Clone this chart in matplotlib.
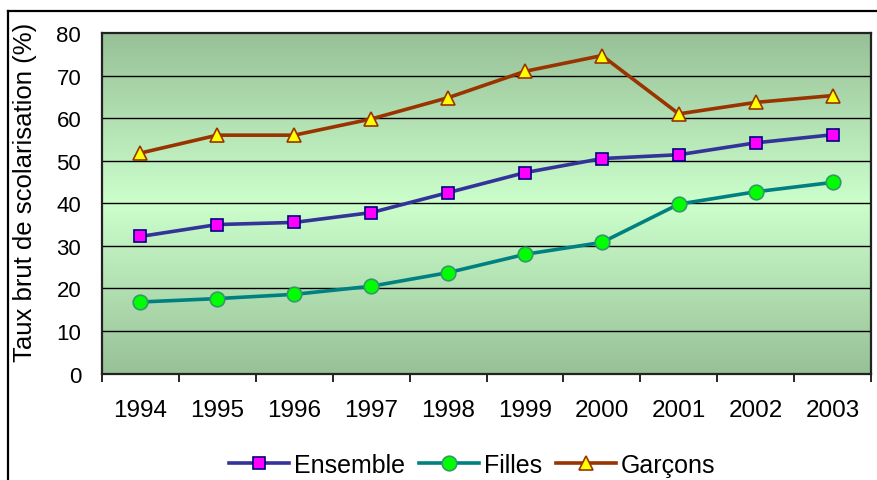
import numpy as np
import matplotlib
matplotlib.use("Agg")
import matplotlib.pyplot as plt
from matplotlib.colors import LinearSegmentedColormap
from matplotlib.lines import Line2D

plt.rcParams["font.family"] = ["Liberation Sans", "DejaVu Sans"]

# --- data ---
years = ["1994", "1995", "1996", "1997", "1998", "1999", "2000", "2001", "2002", "2003"]
ensemble = [32.2, 35.0, 35.5, 37.8, 42.5, 47.2, 50.5, 51.4, 54.2, 56.1]
filles = [16.8, 17.6, 18.6, 20.5, 23.7, 28.0, 30.8, 39.8, 42.7, 44.9]
garcons = [51.8, 56.0, 56.0, 59.8, 64.8, 71.0, 74.7, 61.0, 63.7, 65.3]

fig = plt.figure(figsize=(8.77, 4.81), dpi=100)
ax = fig.add_axes([0.1163, 0.2214, 0.877, 0.7079])

# outer chart frame (only top and left visible in the crop)
fig.add_artist(Line2D([8 / 877, 8 / 877], [0, 1 - 12 / 481], transform=fig.transFigure,
                      color="black", lw=1.6))
fig.add_artist(Line2D([8 / 877, 1], [1 - 12 / 481, 1 - 12 / 481], transform=fig.transFigure,
                      color="black", lw=1.6))

# plot area background: dark green at edges, light green in the middle
cmap = LinearSegmentedColormap.from_list("bg", ["#97c097", "#ccffcc", "#97c097"])
grad = np.linspace(0, 1, 256).reshape(-1, 1)
ax.imshow(grad, cmap=cmap, aspect="auto", extent=[0, 1, 0, 1],
          transform=ax.transAxes, zorder=0)

x = np.arange(len(years)) + 0.5

ax.plot(x, ensemble, color="#333399", lw=2.6, marker="s", ms=8,
        mfc="#ff00ff", mec="#000080", mew=1.2, label="Ensemble", zorder=3)
ax.plot(x, filles, color="#008080", lw=2.6, marker="o", ms=10.5,
        mfc="#00ff00", mec="#339966", mew=1.2, label="Filles", zorder=3)
ax.plot(x, garcons, color="#993300", lw=2.6, marker="^", ms=10,
        mfc="#ffff00", mec="#993300", mew=1.2, label="Garçons", zorder=3)

ax.set_xlim(0, len(years))
ax.set_ylim(0, 80)
ax.set_yticks(range(0, 81, 10))
for v in range(10, 80, 10):
    ax.axhline(v, color="black", lw=1.0, zorder=1)

ax.set_xticks(x)
ax.set_xticklabels(years)
ax.set_xticks(np.arange(len(years) + 1), minor=True)
ax.tick_params(axis="x", which="major", length=0, pad=18, labelsize=17.5)
ax.tick_params(axis="x", which="minor", length=5.5, width=1.2, direction="out")
ax.tick_params(axis="y", length=0, pad=15, labelsize=16)

for sp in ax.spines.values():
    sp.set_color("#222222")
    sp.set_linewidth(1.6)

fig.text(25 / 877, 1 - 192 / 481, "Taux brut de scolarisation (%)", rotation=90,
         ha="center", va="center", fontsize=18.5)

fig.legend(loc="center", bbox_to_anchor=(472 / 877, 1 - 466 / 481), ncol=3,
           frameon=False, fontsize=18, handlelength=2.4, handletextpad=0.2,
           columnspacing=0.55, borderpad=0)

fig.savefig("out.png", dpi=100)
